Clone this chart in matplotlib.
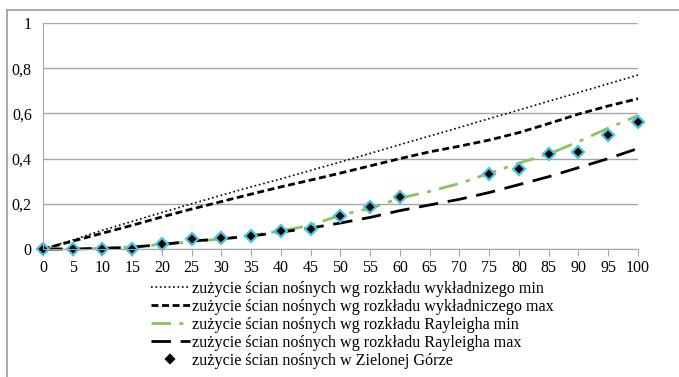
import matplotlib.pyplot as plt
from matplotlib.lines import Line2D

## data
x = list(range(0, 101, 5))
exp_min = [0, 0.04, 0.083, 0.122, 0.162, 0.2, 0.238, 0.275, 0.31, 0.348, 0.385,
           0.423, 0.462, 0.5, 0.538, 0.577, 0.615, 0.654, 0.692, 0.731, 0.77]
exp_max = [0, 0.035, 0.07, 0.105, 0.142, 0.177, 0.21, 0.243, 0.275, 0.305, 0.336,
           0.368, 0.4, 0.43, 0.455, 0.482, 0.515, 0.555, 0.597, 0.633, 0.665]
ray_min = [0, 0.0, 0.003, 0.009, 0.02, 0.032, 0.045, 0.06, 0.08, 0.105, 0.15,
           0.18, 0.225, 0.255, 0.29, 0.335, 0.38, 0.42, 0.475, 0.535, 0.59]
ray_max = [0, 0.0, 0.003, 0.008, 0.02, 0.035, 0.045, 0.057, 0.075, 0.093, 0.115,
           0.14, 0.17, 0.195, 0.22, 0.25, 0.285, 0.32, 0.36, 0.4, 0.445]
zg_x = [0, 5, 10, 15, 20, 25, 30, 35, 40, 45, 50, 55, 60, 75, 80, 85, 90, 95, 100]
zg_y = [0, 0, 0, 0, 0.022, 0.044, 0.049, 0.058, 0.08, 0.089, 0.146, 0.186, 0.23,
        0.332, 0.354, 0.42, 0.43, 0.505, 0.562]
labels = ["zużycie ścian nośnych wg rozkładu wykładnizego min",
          "zużycie ścian nośnych wg rozkładu wykładniczego max",
          "zużycie ścian nośnych wg rozkładu Rayleigha min",
          "zużycie ścian nośnych wg rozkładu Rayleigha max",
          "zużycie ścian nośnych w Zielonej Górze"]
yticks = [0, 0.2, 0.4, 0.6, 0.8, 1]
ytick_labels = ["0", "0,2", "0,4", "0,6", "0,8", "1"]

plt.rcParams['font.family'] = ['Liberation Serif', 'DejaVu Serif']

fig = plt.figure(figsize=(6.79, 3.77), dpi=100)
ax = fig.add_axes([0.0633, 0.3395, 0.8763, 0.5995])

ax.plot(x, exp_min, ':', color='black', lw=1.2, label=labels[0])
ax.plot(x, exp_max, '--', color='black', lw=2, dashes=(2.5, 1.3), label=labels[1])
ax.plot(x, ray_min, '-.', color='#8cc35c', lw=2, dashes=(7, 3, 1.5, 3), label=labels[2])
ax.plot(x, ray_max, '--', color='black', lw=2, dashes=(7, 3.5), label=labels[3])
ax.plot(zg_x, zg_y, 'D', color='black', ms=6, mec='#4ac3e0', mew=1.6,
        linestyle='none', label=labels[4])

ax.set_xlim(0, 100)
ax.set_ylim(0, 1)
ax.set_xticks(x)
ax.set_xticklabels([str(v) for v in x], fontsize=11.5)
ax.set_yticks(yticks)
ax.set_yticklabels(ytick_labels, fontsize=11.5)
ax.yaxis.grid(True, color='#a6a6a6', lw=1)
ax.set_axisbelow(True)
for s in ['top', 'right']:
    ax.spines[s].set_visible(False)
ax.spines['left'].set_color('#a6a6a6')
ax.spines['bottom'].set_color('#a6a6a6')
ax.tick_params(axis='x', direction='out', length=5, color='#a6a6a6', pad=3)
ax.tick_params(axis='y', length=0, pad=8)
for ln in ax.lines:
    ln.set_clip_on(False)

leg = fig.legend(loc='upper left', bbox_to_anchor=(151 / 679, 1 - 281 / 377),
                 frameon=False, fontsize=11.6, handlelength=2.4,
                 handletextpad=0.15, labelspacing=0.12, borderaxespad=0,
                 borderpad=0)
for h in leg.legend_handles:
    if h.get_marker() == 'D':
        h.set_markersize(4)
        h.set_markeredgecolor('black')

## outer frame
fig.add_artist(Line2D([7 / 679, 7 / 679], [0, 1 - 10 / 377], color='#9a9a9a', lw=1.2))
fig.add_artist(Line2D([7 / 679, 1], [1 - 10 / 377, 1 - 10 / 377], color='#9a9a9a', lw=1.2))

fig.savefig('out.png', dpi=100)
